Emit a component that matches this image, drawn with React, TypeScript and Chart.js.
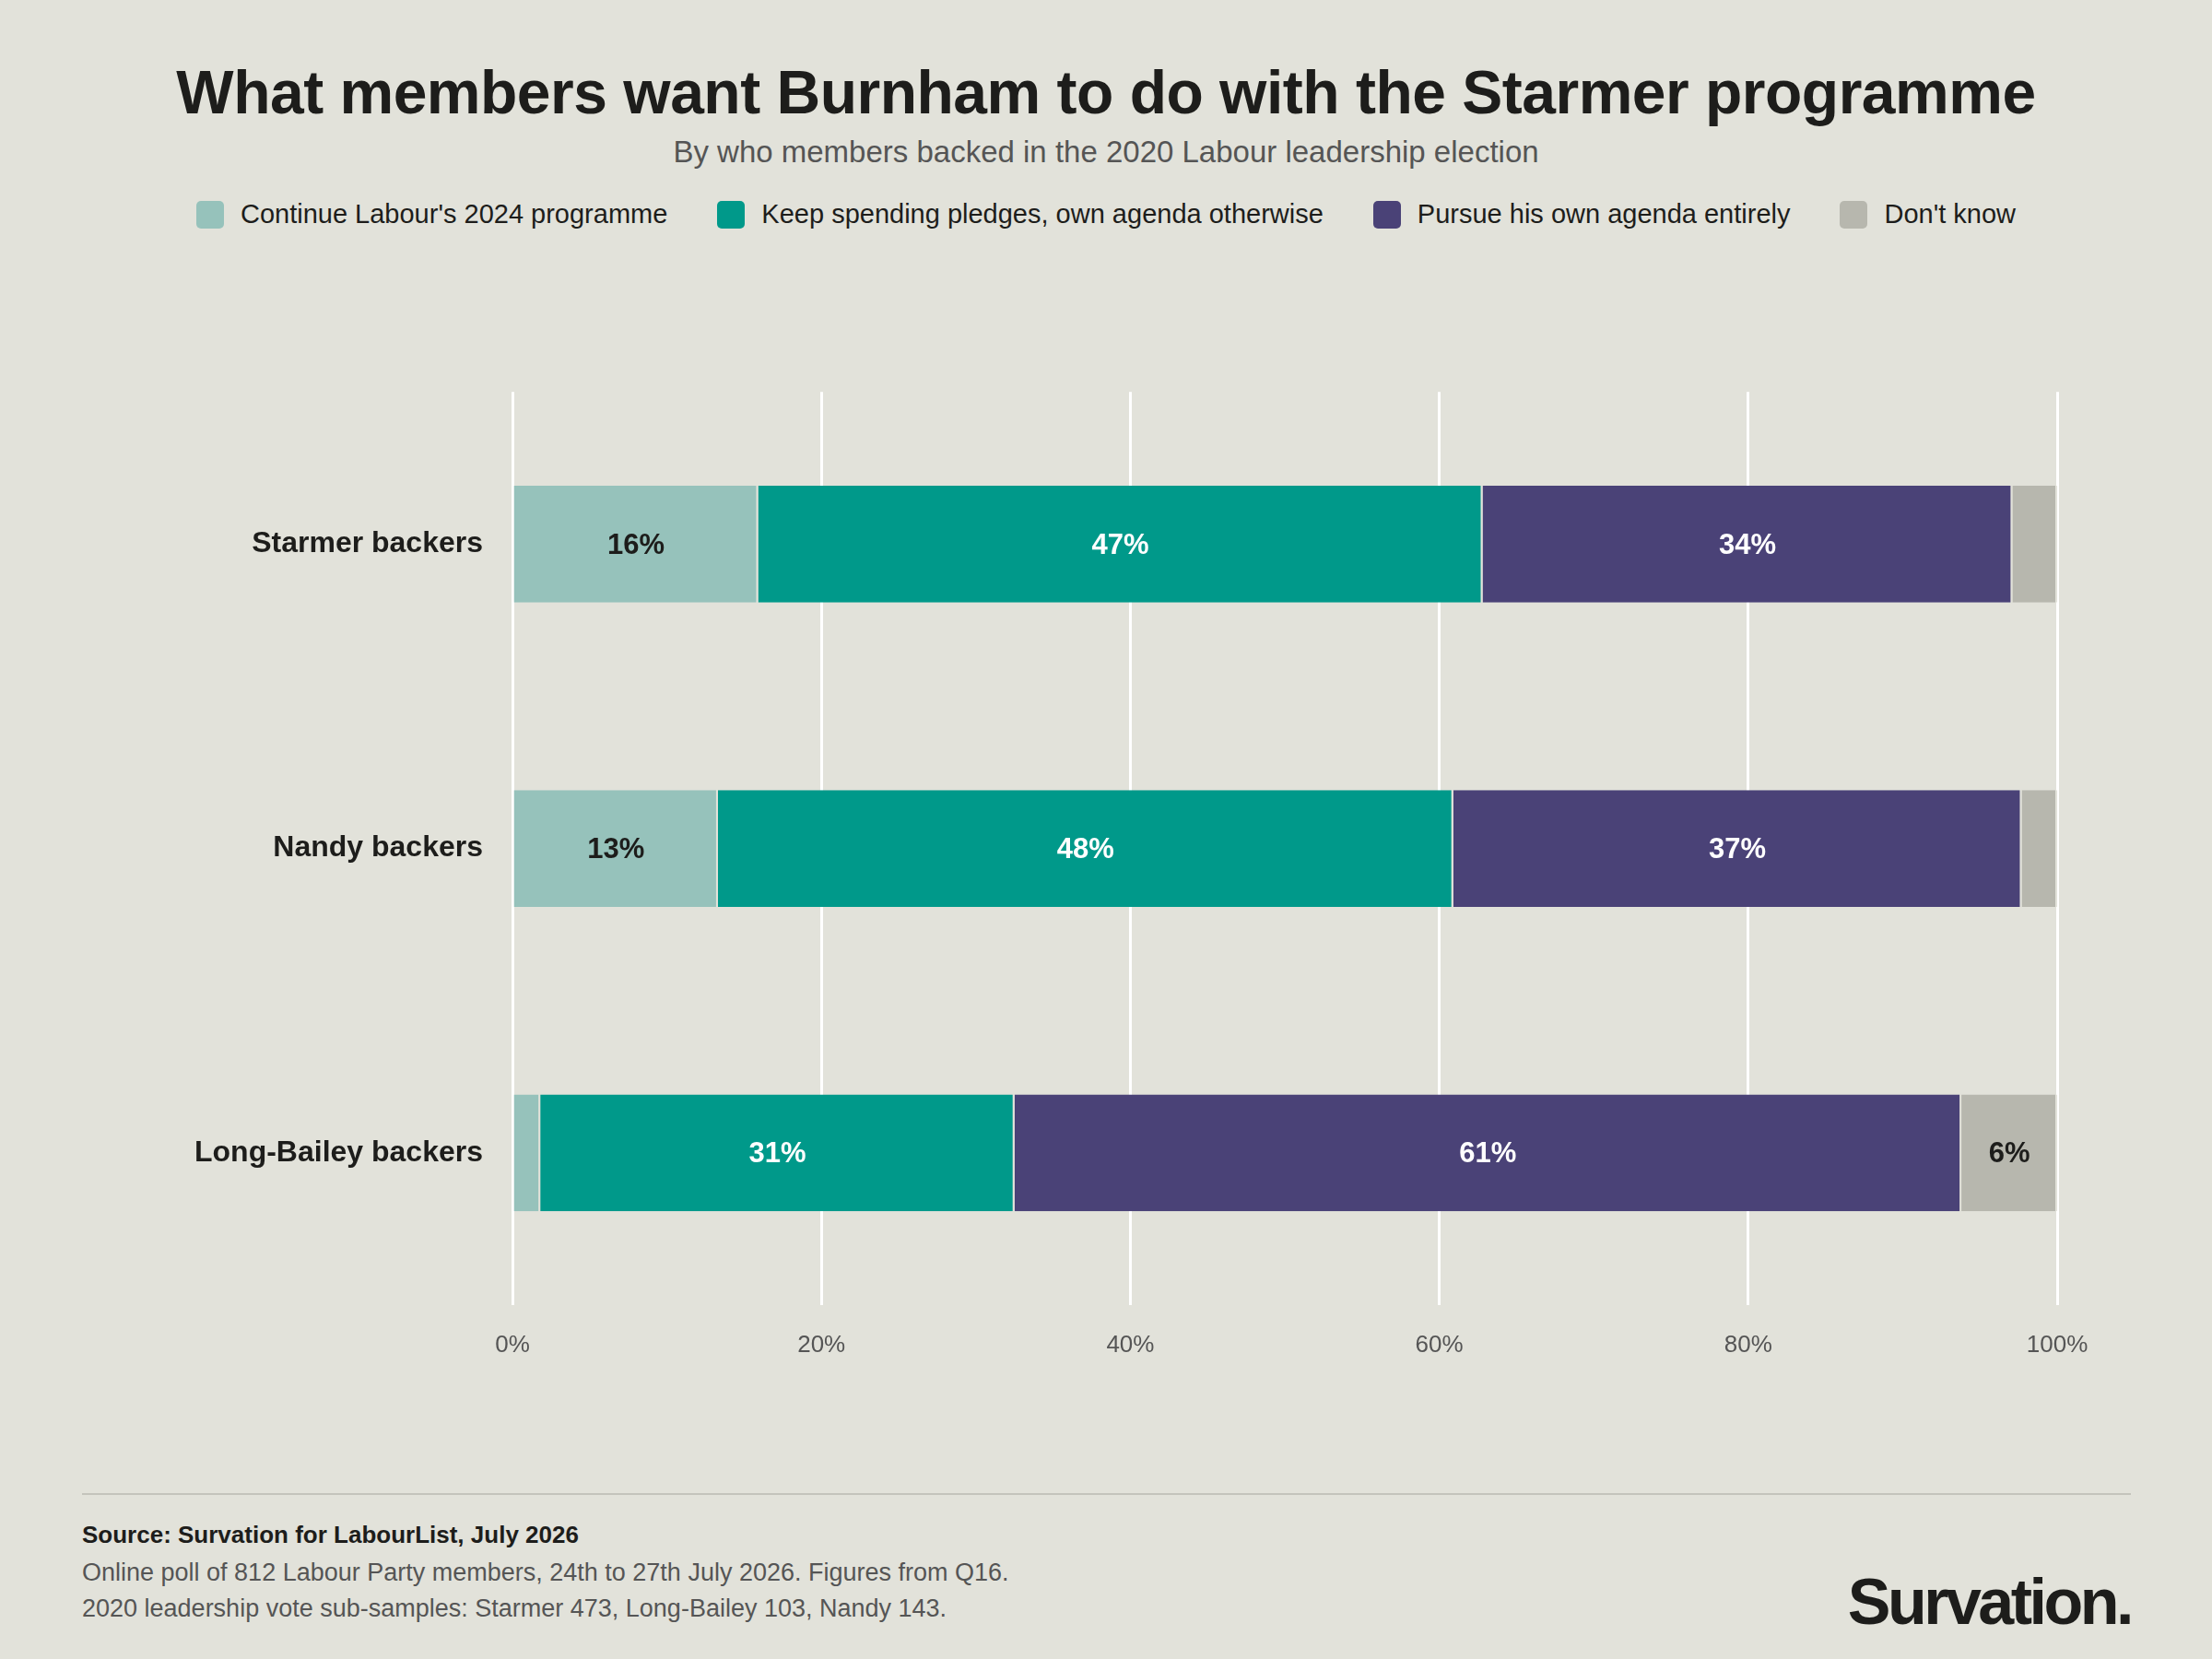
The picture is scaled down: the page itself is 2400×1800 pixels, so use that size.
import React, { useEffect, useRef } from "react";
import { Chart, registerables } from "chart.js";
Chart.register(...registerables);

const categories = ["Starmer backers", "Nandy backers", "Long-Bailey backers"];
const seriesNames = ["Continue Labour's 2024 programme", "Keep spending pledges, own agenda otherwise", "Pursue his own agenda entirely", "Don't know"];
const continueVals = [15.9, 13.3, 1.8];
const keepVals = [46.9, 47.6, 30.7];
const pursueVals = [34.3, 36.8, 61.3];
const dkVals = [2.9, 2.3, 6.2];
const colors = ["#96c2bb", "#00998a", "#4a4277", "#b7b7ae"];
const labelColors = ["#1d1d1b", "#ffffff", "#ffffff", "#1d1d1b"];
const xTicks = [0, 20, 40, 60, 80, 100];

const FONT = "Liberation Sans, Arial, sans-serif";

export default function App() {
  const ref = useRef<HTMLCanvasElement>(null);
  useEffect(() => {
    document.body.style.margin = "0";
    const all = [continueVals, keepVals, pursueVals, dkVals];
    const labelPlugin = {
      id: "lbl",
      afterDatasetsDraw(chart: any) {
        const ctx = chart.ctx;
        ctx.save();
        ctx.font = `bold 31px ${FONT}`;
        ctx.textAlign = "center";
        ctx.textBaseline = "middle";
        chart.data.datasets.forEach((ds: any, i: number) => {
          chart.getDatasetMeta(i).data.forEach((bar: any, j: number) => {
            const v = ds.data[j];
            if (v < 5) return;
            ctx.fillStyle = labelColors[i];
            ctx.fillText(Math.round(v) + "%", (bar.x + bar.base) / 2, bar.y + 2);
          });
        });
        ctx.restore();
      },
    };
    const chart = new Chart(ref.current!, {
      type: "bar",
      data: {
        labels: categories,
        datasets: all.map((d, i) => ({
          label: seriesNames[i],
          data: d,
          backgroundColor: colors[i],
          borderColor: "#e2e2da",
          borderWidth: { left: 0, right: 2, top: 0, bottom: 0 } as any,
          borderSkipped: false,
          barPercentage: 0.384,
          categoryPercentage: 1,
        })),
      },
      options: {
        indexAxis: "y",
        animation: false,
        responsive: false,
        maintainAspectRatio: false,
        layout: { padding: { left: 0, right: 168, top: 0, bottom: 0 } },
        plugins: { legend: { display: false }, tooltip: { enabled: false } },
        scales: {
          x: {
            stacked: true,
            min: 0,
            max: 100,
            afterBuildTicks: (s: any) => { s.ticks = xTicks.map((v) => ({ value: v })); },
            afterFit: (s: any) => { s.height = 88; },
            grid: { color: "#ffffff", lineWidth: 3, drawTicks: false },
            border: { display: false },
            ticks: { color: "#555555", font: { family: FONT, size: 26 }, padding: 28, callback: (v: any) => v + "%" },
          },
          y: {
            stacked: true,
            afterFit: (s: any) => { s.width = 556; },
            grid: { display: false },
            border: { display: false },
            ticks: { color: "#1d1d1b", font: { family: FONT, size: 32, weight: "bold" }, padding: 24 },
          },
        },
      },
      plugins: [labelPlugin],
    } as any);
    return () => chart.destroy();
  }, []);

  return (
    <div style={{ position: "relative", width: 2400, height: 1800, background: "#e2e2da", fontFamily: FONT, color: "#1d1d1b", overflow: "hidden" }}>
      <div style={{ position: "absolute", top: 62, width: "100%", textAlign: "center", fontSize: 66, fontWeight: "bold", letterSpacing: -0.5 }}>
        What members want Burnham to do with the Starmer programme
      </div>
      <div style={{ position: "absolute", top: 146, width: "100%", textAlign: "center", fontSize: 33, color: "#555" }}>
        By who members backed in the 2020 Labour leadership election
      </div>
      <div style={{ position: "absolute", top: 216, width: "100%", display: "flex", justifyContent: "center", gap: 54, fontSize: 29 }}>
        {seriesNames.map((n, i) => (
          <div key={n} style={{ display: "flex", alignItems: "center", gap: 18 }}>
            <div style={{ width: 30, height: 30, borderRadius: 5, background: colors[i] }} />
            <span>{n}</span>
          </div>
        ))}
      </div>
      <canvas ref={ref} width={2400} height={1122} style={{ position: "absolute", left: 0, top: 382, width: 2400, height: 1122 }} />
      <div style={{ position: "absolute", left: 89, width: 2223, top: 1620, borderTop: "2px solid #c4c4bc" }} />
      <div style={{ position: "absolute", left: 89, top: 1650, fontSize: 26, fontWeight: "bold" }}>Source: Survation for LabourList, July 2026</div>
      <div style={{ position: "absolute", left: 89, top: 1691, fontSize: 27, color: "#555" }}>Online poll of 812 Labour Party members, 24th to 27th July 2026. Figures from Q16.</div>
      <div style={{ position: "absolute", left: 89, top: 1730, fontSize: 27, color: "#555" }}>2020 leadership vote sub-samples: Starmer 473, Long-Bailey 103, Nandy 143.</div>
      <div style={{ position: "absolute", right: 88, top: 1698, fontSize: 70, fontWeight: "bold", letterSpacing: -3.5 }}>Survation.</div>
    </div>
  );
}
